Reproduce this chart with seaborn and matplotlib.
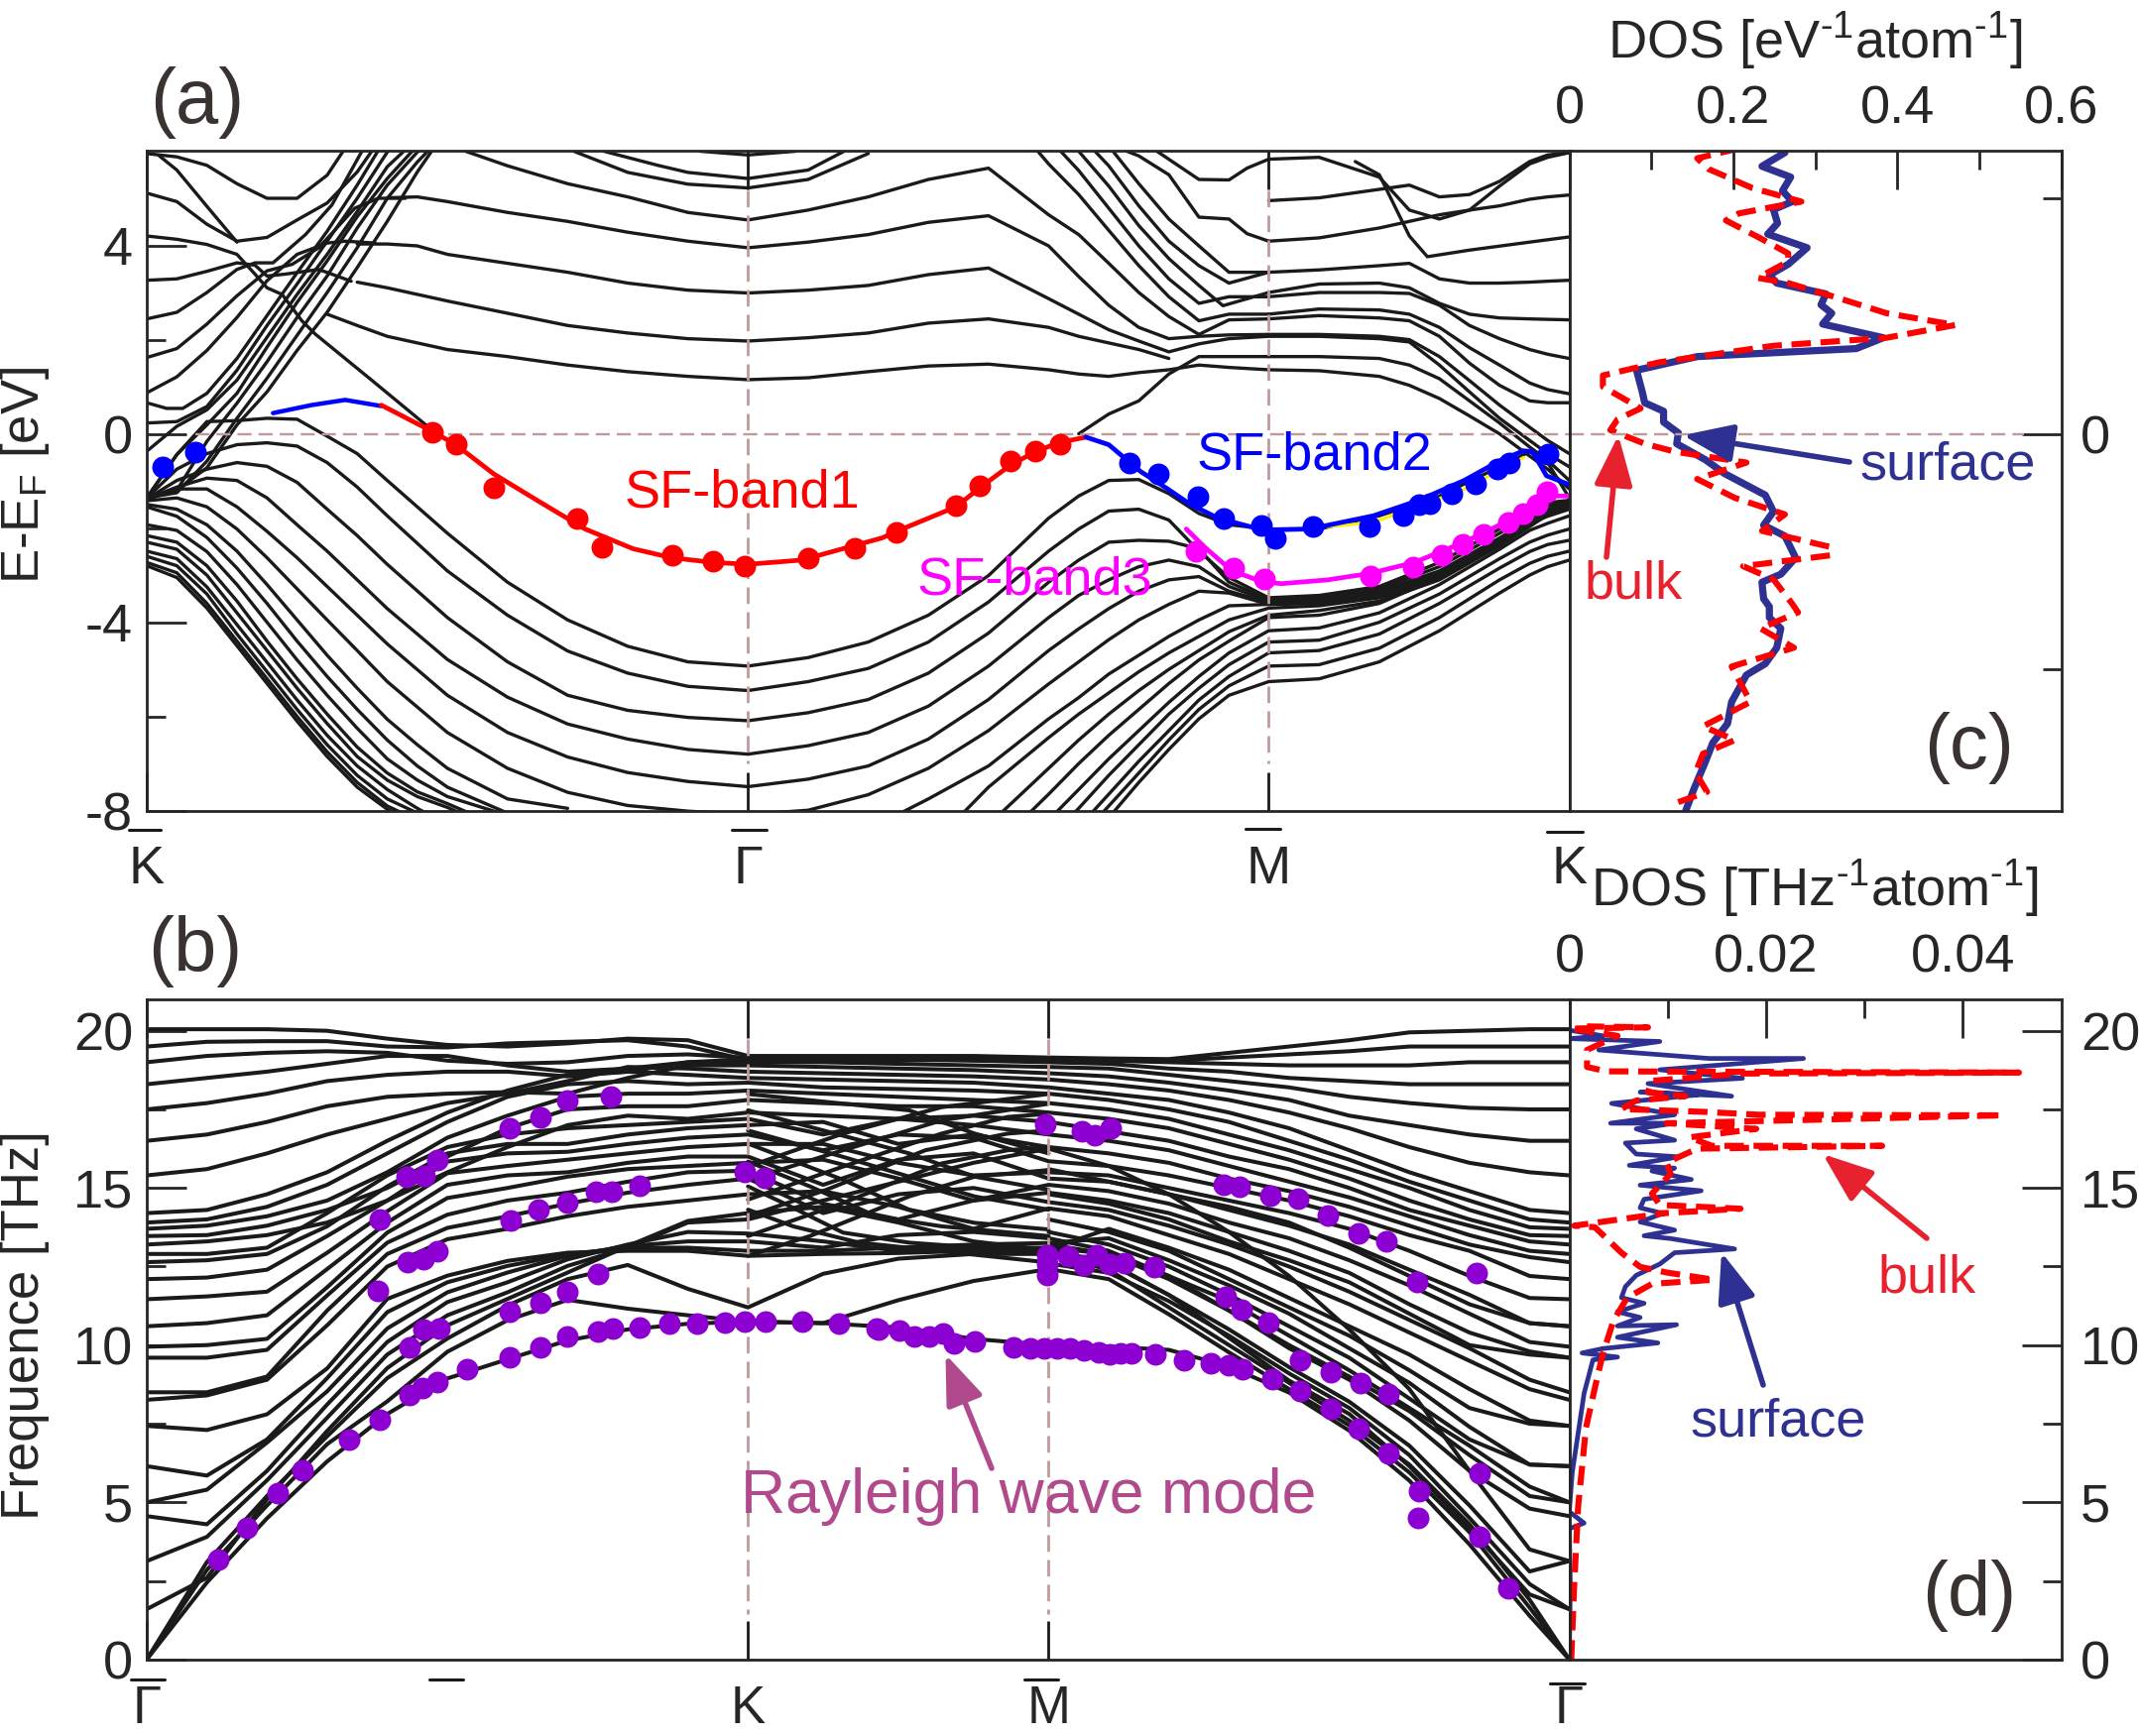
import pandas as pd
import matplotlib
matplotlib.use("Agg")
import matplotlib.pyplot as plt
import seaborn as sns
from matplotlib.lines import Line2D
from matplotlib.patches import FancyArrowPatch

W, H = 2157, 1751

# ---- panel (a): k path K-G-M-K, energies in eV
GRID_A = [0,.05,.1,.15,.2,.25,.3,.35,.4,.5,.6,.7,.8,.9,1,1.1,1.2,1.3,1.4,1.5,1.55,1.6,1.65,1.7,1.75,1.8,1.866,1.95,2.05,2.15,2.25,2.3,2.33,2.366]
V1 = [-1.36,-.44,.26,.28,.33,.31,-.05,-.42,-.99,-2.11,-3.15,-3.95,-4.51,-4.84,-4.93,-4.75,-4.42,-3.85,-3.01,-1.79,-1.32,-.99,-.97,-1.27,-1.69,-1.93,-2.02,-2.02,-1.74,-1.32,-.7,-.38,-.61,-1.36]
V2 = [-1.36,-.75,-.42,-.23,-.19,-.26,-.61,-1.13,-1.74,-2.91,-3.85,-4.61,-5.08,-5.36,-5.45,-5.26,-4.98,-4.42,-3.57,-2.49,-2.02,-1.64,-1.6,-1.83,-2.49,-3.05,-3.48,-3.43,-3.24,-2.73,-2.02,-1.64,-1.46,-1.41]
V3 = [-1.38,-.99,-.75,-.61,-.69,-1.03,-1.6,-2.16,-2.77,-3.9,-4.84,-5.55,-5.87,-6.02,-6.09,-5.92,-5.64,-5.08,-4.23,-3.15,-2.68,-2.3,-2.26,-2.28,-2.44,-3.15,-3.52,-3.48,-3.29,-2.82,-2.11,-1.74,-1.53,-1.44]
V4 = [-1.38,-1.13,-.94,-.99,-1.36,-1.93,-2.49,-3.1,-3.71,-4.79,-5.59,-6.16,-6.48,-6.7,-6.8,-6.62,-6.34,-5.78,-4.93,-3.9,-3.43,-3.1,-2.82,-2.68,-2.82,-3.24,-3.55,-3.52,-3.34,-2.91,-2.21,-1.83,-1.6,-1.46]
V5 = [-1.4,-1.17,-1.17,-1.55,-2.07,-2.63,-3.24,-3.85,-4.46,-5.55,-6.34,-6.86,-7.19,-7.38,-7.49,-7.33,-7.05,-6.48,-5.64,-4.6,-4.14,-3.71,-3.34,-3.1,-3.03,-3.34,-3.58,-3.55,-3.38,-2.95,-2.25,-1.88,-1.63,-1.48]
V6 = [-1.42,-1.36,-1.55,-2.02,-2.63,-3.29,-3.95,-4.6,-5.26,-6.34,-7.1,-7.61,-7.89,-8.01,-8.08,-7.99,-7.66,-7.1,-6.3,-5.31,-4.84,-4.37,-3.95,-3.62,-3.34,-3.38,-3.62,-3.58,-3.42,-3,-2.28,-1.9,-1.65,-1.5]

LOW_LEFT_K = [0,.05,.1,.15,.2,.25,.3,.35,.4,.45,.5,.6,.7]
LL7 = [-1.5,-1.6,-1.93,-2.49,-3.2,-3.95,-4.7,-5.4,-6.06,-6.6,-7.1,-7.75,-7.95]
LL8 = [-1.55,-1.75,-2.2,-2.85,-3.6,-4.4,-5.15,-5.85,-6.5,-7.05,-7.5,-8.05,-8.4]
LL9 = [-1.93,-2.05,-2.5,-3.2,-4,-4.8,-5.55,-6.25,-6.9,-7.35,-7.7,-8.1,-8.8]
LL10 = [-2.16,-2.3,-2.8,-3.55,-4.4,-5.2,-5.95,-6.65,-7.2,-7.6,-7.85,-8.4,-9]
LL11 = [-2.3,-2.45,-3,-3.8,-4.6,-5.4,-6.15,-6.85,-7.35,-7.7,-7.93,-8.5,-9]
LL12 = [-2.49,-2.65,-3.25,-4.05,-4.85,-5.65,-6.4,-7.05,-7.55,-7.95,-8.3,-8.9,-9]
LL13 = [-2.6,-2.8,-3.4,-4.25,-5.05,-5.85,-6.6,-7.25,-7.75,-8.05,-8.4,-9,-9]
LL14 = [-2.73,-2.95,-3.6,-4.4,-5.2,-6,-6.75,-7.4,-7.9,-8.2,-8.5,-9,-9]
LL15 = [-2.8,-3.05,-3.7,-4.5,-5.3,-6.1,-6.85,-7.5,-7.97,-8.3,-8.6,-9,-9]

LOW_RIGHT_K = [1.2,1.3,1.4,1.5,1.55,1.6,1.65,1.7,1.75,1.8,1.866,1.95,2.05,2.15,2.25,2.3,2.33,2.366]
LR7 = [-8.4,-7.75,-7.05,-6.05,-5.6,-5.1,-4.7,-4.3,-3.95,-3.65,-3.62,-3.6,-3.45,-3.05,-2.32,-1.92,-1.68,-1.5]
LR8 = [-9.5,-8.8,-7.5,-6.45,-5.95,-5.5,-5.05,-4.65,-4.3,-3.95,-3.7,-3.65,-3.48,-3.08,-2.35,-1.95,-1.7,-1.52]
LR9 = [-10,-9.5,-8.3,-7.1,-6.5,-5.95,-5.45,-5,-4.6,-4.2,-3.85,-3.75,-3.55,-3.1,-2.38,-1.97,-1.72,-1.55]
LR10 = [-10,-9.7,-8.9,-7.65,-7,-6.4,-5.85,-5.3,-4.8,-4.4,-3.9,-3.85,-3.6,-3.05,-2.3,-1.9,-1.75,-1.6]
LR11 = [-10,-10,-9.7,-8.2,-7.55,-6.9,-6.3,-5.7,-5.15,-4.65,-4.18,-4.12,-3.8,-3.2,-2.45,-2.05,-1.9,-1.74]
LR12 = [-10,-10,-10,-8.6,-7.95,-7.25,-6.6,-5.95,-5.4,-4.9,-4.42,-4.38,-4,-3.4,-2.65,-2.3,-2.15,-2.02]
LR13 = [-10,-10,-10,-9,-8.35,-7.65,-6.95,-6.3,-5.65,-5.15,-4.65,-4.6,-4.25,-3.6,-2.85,-2.5,-2.35,-2.26]
LR14 = [-10,-10,-10,-9.5,-8.6,-7.9,-7.2,-6.5,-5.85,-5.35,-4.93,-4.9,-4.55,-3.9,-3.1,-2.75,-2.6,-2.49]
LR15 = [-10,-10,-10,-9.7,-8.8,-8.15,-7.4,-6.7,-6.05,-5.55,-5.26,-5.2,-4.84,-4.18,-3.38,-3,-2.82,-2.68]

# steep bundle rising out of K towards the top edge
STEEP_K = [0,.05,.1,.15,.2,.25,.3,.35,.4,.45,.49]
S1 = [-1.36,-1.2,-.72,.19,.89,1.77,2.58,3.53,4.51,5.56,6.3]
BB1 = [-1.36,-.44,.19,.86,1.84,2.79,3.67,4.61,5.42,6.12,6.5]
BB2 = [-1.36,-1.2,-.16,.65,1.53,2.47,3.35,4.37,5.28,5.98,6.4]
BB3 = [-1.36,-1.25,-.58,.33,1.18,2.09,3,3.95,5,5.77,6.3]
B1_K = [0,.05,.1,.15,.2,.25,.3,.35]
B1 = [5.95,5.88,5.7,5.31,5,5,5.49,6.45]
B2_K = [0,.05,.1,.15,.2,.25,.3,.35,.4]
B2 = [5.11,4.93,4.45,4.09,4.17,4.54,4.9,5.56,6.47]
U2_K = [.02,.05,.1,.15]
U2 = [5.91,5.6,4.83,4.07]
B3_K = [0,.05,.1,.15,.18,.2,.225,.258,.28,.374,.467]
B3 = [4.2,4.13,4.02,3.81,3.39,3.1,2.96,2.4,2.12,1.14,.16]
B4_K = [0,.05,.1,.15,.18,.2,.23,.286,.34]
B4 = [3.26,3.29,3.45,3.63,3.58,3.35,3.39,3.49,3.24]
B5_K = [0,.05,.1,.15,.18,.21,.264,.308,.357]
B5 = [2.44,2.58,3,3.49,3.63,3.63,4.23,4.86,5.98]
B6_K = [0,.05,.1,.15,.2,.242,.286,.346,.385,.43]
B6 = [1.62,1.81,2.33,2.93,3.46,3.6,3.95,4.79,5,5]
B7_K = [0,.05,.1,.15,.2,.25,.3,.33,.38]
B7 = [.87,1.21,1.77,2.47,3.25,3.81,4.05,4.09,4.05]
B8_K = [0,.033,.06,.1,.15,.2,.25,.3,.35,.4]
B8 = [.66,.54,.54,.86,1.6,2.51,3.42,4.3,5.28,6.33]
B9_K = [0,.05,.1,.15,.2,.25,.3,.35,.4,.42]
B9 = [.23,.26,.58,1.35,2.3,3.18,4.09,5,5.98,6.3]
B10_K = [0,.05,.1,.15,.2,.25,.3,.35,.4,.426]
B10 = [-.37,.16,.51,1.14,2.05,2.96,3.81,4.72,5.67,5.98]

C1_K = [.3,.35,.4,.45,.5,.6,.7,.8,.9,1,1.1,1.2,1.3,1.4,1.5,1.55,1.6,1.65,1.7,1.75,1.8,1.866]
C1 = [2.54,2.3,2.07,1.93,1.79,1.64,1.46,1.32,1.22,1.15,1.19,1.32,1.44,1.48,1.36,1.27,1.22,1.3,1.36,1.46,1.41,1.36]
C2_K = [.35,.4,.45,.5,.6,.7,.8,.9,1,1.1,1.2,1.3,1.4,1.5,1.55,1.6,1.65,1.7]
C2 = [3.22,3.1,2.96,2.82,2.56,2.3,2.14,2.02,1.97,2.04,2.14,2.35,2.44,2.26,2.07,1.93,1.79,1.6]
C3_K = [.35,.4,.45,.5,.6,.7,.8,.9,1,1.1,1.2,1.3,1.4,1.5,1.55,1.6,1.65,1.7,1.75,1.8,1.866]
C3 = [4.03,4.03,3.99,3.81,3.62,3.43,3.2,3.05,2.99,3.05,3.15,3.38,3.52,2.87,2.54,2.21,1.97,1.74,1.91,2.02,2.07]
C4_K = [.4,.45,.5,.6,.7,.8,.9,1,1.1,1.2,1.3,1.4,1.5,1.55,1.6,1.65,1.7,1.75,1.8,1.866]
C4 = [5.01,5.03,4.93,4.7,4.51,4.28,4.09,3.95,4.07,4.23,4.49,4.63,3.99,3.34,2.73,2.26,2.02,2.07,2.1,2.11]
C5_K = [.53,.6,.7,.8,.9,1,1.1,1.2,1.3,1.4,1.5,1.55,1.6,1.65,1.7,1.75,1.8,1.866]
C5 = [6,5.69,5.31,5.03,4.7,4.54,4.75,5.03,5.4,5.64,4.65,4.23,3.62,3,2.49,2.11,2.42,2.44]
C6_K = [.71,.8,.9,1,1.1,1.2]
C6 = [6,5.55,5.3,5.22,5.4,5.95]
C7_K = [.76,.85,.9,1,1.1,1.16]
C7 = [6,5.7,5.55,5.42,5.6,6]
C8_K = [.92,1,1.08]
C8 = [6,5.92,6]
F_K = [1.55,1.6,1.65,1.7,1.75,1.8,1.866]
F = [0,.42,.7,1.27,1.64,1.64,1.64]

T1_K = [1.482,1.5,1.55,1.6,1.65,1.7,1.75,1.8,1.866]
T1 = [6,5.73,5.08,4.32,3.57,2.91,2.4,2.54,2.54]
T2_K = [1.52,1.55,1.6,1.65,1.7,1.75,1.8,1.866]
T2 = [6,5.59,4.79,3.99,3.29,2.77,2.91,2.91]
T3_K = [1.55,1.6,1.65,1.7,1.75,1.79,1.866]
T3 = [6,5.26,4.42,3.72,3.15,2.72,3]
T4_K = [1.577,1.6,1.65,1.7,1.75,1.8,1.866]
T4 = [6,5.69,4.84,4.09,3.57,3.2,3.43]
T5_K = [1.607,1.65,1.7,1.75,1.8,1.866]
T5 = [6,5.31,4.56,3.99,3.43,3.43]
T6_K = [1.63,1.65,1.7,1.75,1.8,1.83,1.866]
T6 = [6,5.9,5.5,4.6,4.56,4.25,4.09]
T7_K = [1.68,1.75,1.8,1.83,1.866]
T7 = [6,5.4,5.39,5.64,5.83]

P_K = [1.866,1.95,2.05,2.1,2.15,2.2,2.25,2.3,2.33,2.366]
P1 = [5.83,5.87,5.45,4.75,4.56,4.75,5.26,5.73,5.87,5.97]
P2 = [4.95,5.01,5.19,5.28,5.03,5.08,5.36,5.78,5.92,5.97]
P3 = [4.09,4.16,4.37,4.51,4.65,4.75,4.84,4.98,5.03,5.07]
P5 = [3.43,3.48,3.57,3.62,3.29,3.2,3.2,3.22,3.24,3.26]
P6 = [3,3.18,3.2,3.1,2.77,2.54,2.46,2.44,2.43,2.42]
P7 = [2.91,3,3,2.98,2.73,2.3,2.02,1.79,1.69,1.6]
P8 = [2.54,2.65,2.63,2.54,2.26,1.83,1.46,1.08,.94,.85]
P9 = [2.44,2.51,2.46,2.4,2.07,1.5,1.03,.7,.66,.66]
P10 = [2.11,2.11,2.07,2,1.64,1.13,.61,.14,-.14,-.42]
P11 = [2.07,2.07,2.02,1.95,1.46,.89,.33,-.14,-.42,-.7]
P12 = [1.64,1.64,1.6,1.46,1.17,.7,.23,-.28,-.56,-.99]
P13 = [1.36,1.34,1.22,1.03,.75,.38,0,-.47,-.75,-1.17]
P4_K = [2.01,2.05,2.1,2.13,2.2,2.3,2.366]
P4 = [5.78,5.5,4.2,3.76,3.9,4.07,4.18]

# surface bands of (a)
SF1_K = [.39,.475,.514,.577,.649,.729,.809,.873,.942,1,1.089,1.223,1.247,1.346,1.387,1.437,1.478,1.516,1.562]
SF1_E = [.61,.05,-.23,-.85,-1.41,-2.02,-2.44,-2.63,-2.73,-2.77,-2.68,-2.21,-2.07,-1.55,-1.13,-.66,-.38,-.19,-.07]
SF1B_K = [.21,.274,.33,.39]
SF1B_E = [.44,.61,.72,.59]
SF2_K = [1.562,1.6,1.653,1.698,1.736,1.782,1.835,1.866,1.934,2.04,2.116,2.191,2.252,2.29,2.305,2.328,2.366]
SF2_E = [-.07,-.23,-.8,-1.17,-1.5,-1.79,-1.97,-2.04,-2.02,-1.74,-1.41,-.99,-.56,-.36,-.38,-.89,-1.08]
YEL_K = [1.964,2.04,2.116,2.191,2.29]
YEL_E = [-1.97,-1.88,-1.53,-1.18,-.5]
SF3_K = [1.729,1.759,1.805,1.858,1.888,1.964,2.036,2.108,2.191,2.267,2.328,2.366]
SF3_E = [-2.02,-2.4,-2.91,-3.15,-3.18,-3.1,-2.96,-2.73,-2.3,-1.83,-1.32,-1.32]

RED_K = [.475,.514,.577,.715,.757,.874,.942,.994,1.1,1.178,1.247,1.346,1.386,1.437,1.478,1.519]
RED_E = [.03,-.21,-1.15,-1.8,-2.4,-2.57,-2.7,-2.8,-2.65,-2.42,-2.09,-1.53,-1.1,-.58,-.36,-.21]
BLUE_K = [.026,.081,1.634,1.683,1.749,1.792,1.854,1.877,1.939,2.034,2.09,2.116,2.135,2.17,2.21,2.247,2.267,2.33]
BLUE_E = [-.7,-.39,-.62,-.85,-1.33,-1.79,-1.95,-2.21,-1.97,-1.97,-1.74,-1.5,-1.48,-1.27,-1.06,-.75,-.61,-.42]
MAG_K = [1.745,1.808,1.858,2.036,2.106,2.154,2.189,2.224,2.265,2.29,2.313,2.329]
MAG_E = [-2.49,-2.84,-3.08,-3.01,-2.82,-2.58,-2.35,-2.14,-1.88,-1.69,-1.5,-1.22]

# ---- panel (c): DOS vs energy
C_SURF_DOS = [.263,.235,.27,.26,.272,.249,.254,.242,.29,.267,.244,.253,.313,.307,.32,.309,.383,.35,.156,.082,.089,.092,.115,.115,.133,.131,.166,.189,.239,.249,.237,.263,.276,.258,.235,.237,.244,.244,.258,.253,.239,.216,.198,.193,.175,.166,.152,.142]
C_SURF_E = [5.97,5.68,5.45,5.16,4.93,4.76,4.47,4.24,3.95,3.6,3.37,3.2,2.97,2.74,2.56,2.33,2.04,1.81,1.64,1.35,.89,.66,.48,.25,.02,-.21,-.55,-.84,-1.3,-1.65,-1.94,-2.17,-2.63,-2.98,-3.15,-3.5,-3.67,-3.9,-4.13,-4.54,-4.88,-5.12,-5.69,-6.15,-6.56,-6.96,-7.54,-8]
C_BULK_DOS = [.207,.156,.17,.223,.283,.207,.191,.23,.267,.267,.23,.267,.323,.387,.471,.387,.249,.11,.041,.041,.087,.059,.05,.092,.129,.216,.156,.202,.263,.235,.318,.318,.212,.249,.272,.279,.233,.274,.198,.221,.163,.202,.163,.154,.168,.131]
C_BULK_E = [6.06,5.85,5.62,5.22,4.93,4.68,4.53,4.18,3.83,3.66,3.31,3.2,2.91,2.56,2.31,2.04,1.87,1.52,1.24,1,.54,.31,.08,-.21,-.38,-.61,-.96,-1.36,-1.71,-2.06,-2.4,-2.58,-2.81,-3.09,-3.61,-3.79,-4.13,-4.54,-4.94,-5.69,-6.21,-6.5,-6.79,-7.19,-7.6,-7.83]

# ---- panel (b): k path G-K-M-G, frequency in THz
GRID_B = [0,.1,.2,.3,.4,.5,.6,.7,.8,.9,1,1.125,1.25,1.375,1.5,1.6,1.7,1.8,1.9,2,2.1,2.2,2.3,2.366]
PH = [
 [0,2.45,4.49,6.3,7.81,8.94,9.55,10.15,10.5,10.68,10.75,10.7,10.56,10.2,10,9.95,9.85,9.32,8.49,7.28,5.69,3.66,1.39,0],
 [0,2.85,4.9,6.85,8.21,9.79,10.79,11.44,11.16,10.95,10.75,10.7,11.43,12.04,12.42,12.1,10.98,9.77,8.6,7.45,5.95,4.05,1.65,0],
 [0,3.1,5.2,7.1,8.95,10.21,11.26,12.1,12.55,11.79,11.2,12.27,12.75,12.9,12.9,12.4,11.2,10,8.8,7.6,6.2,4.3,1.9,0],
 [1.6,2.6,5.1,7.27,9.27,10.63,11.47,12.31,13.15,13.95,14.2,14.4,13.9,13.3,13.02,12.64,11.59,10.23,8.87,7.81,6.15,4.18,2.07,1.6],
 [3.13,3.9,5.7,7.69,9.7,10.95,11.68,12.52,13.1,13.9,14,14.6,15.2,15.8,16.25,15.7,14.8,13.6,12.2,10.5,8.6,6,3.5,3.13],
 [4.56,4.3,6,8.11,10.1,11.37,12,12.73,13.2,13.6,13.55,13.3,13,13.1,13.1,12.9,12.2,11.1,9.9,8.9,7.6,6,4.8,4.56],
 [5,5.4,6.9,8.53,10.53,11.68,12.31,12.84,13.15,13.3,13.3,13.1,13.5,13.6,13.4,13,12.2,11.4,10.3,9.2,8,6.8,5.5,5],
 [6.15,5.85,7,8.95,11.05,12,12.52,12.89,13.1,13.1,13,13,13.1,13.2,13.25,13.4,12.7,11.9,11,9.9,8.8,7.4,6.2,6.15],
 [7.43,7.3,7.8,9.26,11.47,12.21,12.68,12.94,13,13,12.84,12.9,12.93,13,13.05,13.7,13.1,12.4,11.5,10.6,9.7,8.6,7.6,7.43],
 [8.26,8.4,8.9,10.63,12.5,13.37,13.7,14.1,14.4,14.6,14.8,14.9,14.4,13.7,14.35,14.1,13.5,12.9,12.1,11.3,10.4,9.5,8.6,8.26],
 [8.5,8.5,9,11.1,12.9,13.73,14.1,14.5,14.85,15.1,15.3,14.2,14.8,15,14.55,14.3,13.8,13.2,12.5,11.7,10.8,9.9,8.9,8.5],
 [9.6,9.6,9.85,11.58,13.26,14.15,14.6,14.85,15.2,15.5,15.55,14.5,14,14.6,14.85,14.6,14.2,13.6,13,12.3,11.3,10.4,9.8,9.6],
 [9.95,10,10.2,11.84,13.58,14.68,15,15.36,15.6,15.7,15.8,15.9,15.3,14.6,15.1,14.9,14.5,13.9,13.4,12.7,11.9,11,10.1,9.95],
 [10.6,10.7,10.95,12.42,13.9,15.1,15.4,15.5,15.8,16,16,15.1,15.9,16.1,15.3,15.2,14.8,14.3,13.8,13.2,12.4,11.6,10.7,10.6],
 [11.46,11.55,11.7,12.94,14.26,15.47,15.7,15.9,16.1,16.3,16.4,16.4,15.8,15.4,15.5,15.4,15,14.6,14.2,13.7,13,12.2,11.5,11.46],
 [12.1,12.15,12.4,13.47,14.6,15.84,16.1,16.15,16.4,16.6,16.7,16.2,16.7,16.6,15.85,15.7,15.4,15,14.6,14.1,13.5,13,12.2,12.1],
 [12.64,12.7,12.9,13.78,15.05,16.1,16.4,16.4,16.7,16.9,17,17.1,16.4,16.7,16.3,16.1,15.8,15.3,14.9,14.4,13.8,13.2,12.8,12.64],
 [12.9,12.9,13.1,14.2,15.4,16.3,16.7,16.9,17,17.1,17.2,16.7,17.2,17,16.7,16.5,16.2,15.7,15.2,14.7,14.1,13.5,13,12.9],
 [13.2,13.3,13.5,13.9,14.6,15.5,16.3,17,17.3,17.2,17.4,17.3,17.2,17.3,17.1,16.8,16.5,16,15.6,15,14.3,13.8,13.3,13.2],
 [13.47,13.5,13.8,14.3,15,16,16.9,17.5,17.6,17.6,17.8,17.7,17.6,17.6,17.4,17.2,16.9,16.4,15.9,15.3,14.6,14,13.5,13.47],
 [13.7,13.8,14.1,14.6,15.5,16.6,17.3,17.9,18,18,18.1,18,17.9,17.8,17.7,17.5,17.2,16.7,16.2,15.6,15,14.3,13.75,13.7],
 [13.9,14,14.4,15.1,16.1,17.1,17.9,18.3,18.4,18.3,18.35,18.2,18.15,18.1,18,17.8,17.5,17.1,16.5,15.9,15.2,14.6,14,13.9],
 [14.2,14.3,14.8,15.5,16.5,17.4,18.1,18.6,18.7,18.6,18.5,18.45,18.4,18.35,18.2,18,17.8,17.4,16.9,16.2,15.5,14.9,14.3,14.2],
 [15.4,15.6,16.1,16.7,17.2,17.7,18,18.4,18.85,18.8,18.7,18.65,18.6,18.55,18.45,18.3,18.1,17.8,17.4,16.9,16.3,15.8,15.5,15.4],
 [16.5,16.7,17.1,17.6,17.9,18,18.05,18,18.5,18.9,18.9,18.85,18.8,18.75,18.65,18.55,18.35,18.1,17.8,17.3,17,16.7,16.5,16.5],
 [17.5,17.7,18,18.4,18.6,18.7,18.7,18.55,18.7,19,19,19,18.95,18.9,18.85,18.8,18.6,18.4,18.2,17.9,17.7,17.55,17.5,17.5],
 [18.3,18.5,18.7,18.95,19.2,19.2,18.9,18.7,18.8,19,19.1,19.1,19.1,19.05,19,18.95,18.8,18.7,18.5,18.4,18.3,18.3,18.3,18.3],
 [19,19.2,19.3,19.35,19.3,19.05,18.95,19,19.2,19.25,19.14,19.14,19.14,19.1,19.1,19.05,19,18.95,18.9,18.9,18.9,19,19,19],
 [19.5,19.65,19.67,19.67,19.5,19.47,19.6,19.65,19.7,19.5,19.07,19.07,19.07,19.07,19.05,19.05,19.05,19.15,19.25,19.35,19.5,19.5,19.5,19.5],
 [20.05,20.05,20.05,20,19.75,19.55,19.5,19.6,19.75,19.7,19.2,19.2,19.2,19.2,19.15,19.12,19.1,19.3,19.5,19.7,19.95,20,20.05,20.05],
]

# crossing lattice between K and M
X_F1 = ([1,1.158,1.268,1.377,1.5], [16.41,15.26,14.31,13.89,13.68])
X_F2 = ([1,1.103,1.213,1.322,1.5], [15.84,15.05,14.1,13.78,13.47])
X_F3 = ([1,1.059,1.158,1.268,1.5], [15.05,14.52,13.58,13.26,12.94])
X_F4 = ([1,1.075,1.185,1.5], [14.31,13.78,13.26,12.63])
X_F5 = ([1,1.158,1.268,1.377,1.5], [16.83,15.99,15.36,14.73,14.31])
X_F6 = ([1,1.268,1.377,1.5], [17.47,16.1,15.36,14.94])
X_F7 = ([1,1.268,1.377,1.5], [17.99,17.47,16.73,16.1])
X_G1 = ([1,1.103,1.268,1.377,1.5], [12.84,13.47,14.73,15.36,15.57])
X_G2 = ([1,1.158,1.322,1.432,1.5], [13.47,14.52,15.78,16.2,16.31])
X_G3 = ([1,1.13,1.295,1.432,1.5], [14.1,14.94,16.2,16.73,16.83])
X_G4 = ([1,1.158,1.322,1.432,1.5], [14.63,15.68,16.73,17.26,17.36])
X_G5 = ([1,1.158,1.322,1.5], [15.26,16.2,17.15,17.68])
X_G6 = ([1,1.158,1.322,1.5], [15.68,16.73,17.57,17.99])

# extra branches between M and the zone centre
MG_K = [1.5,1.6,1.7,1.8,1.9,2,2.1,2.2,2.3,2.366]
MG1 = [12.9,12.6,11.6,10.5,9.3,8.2,6.8,4.9,2.8,3.13]
MG2 = [12.6,12.3,11.4,10.3,9.1,8,6.5,4.5,2.4,1.6]
MG3 = [13.2,12.9,12.1,11.1,10,9,7.9,6.5,5.2,5]
MG4 = [13.6,13.2,12.5,11.6,10.6,9.6,8.3,7,6.2,6.15]
MG5 = [14,13.6,13,12.1,11.2,10.3,9.2,8,7.5,7.43]
MG6 = [14.8,14.5,14,13.3,12.7,12,11,10,9.7,9.6]
MG7 = [15.6,15.2,14.8,14.4,13.9,13.1,12.2,11.3,10.7,10.6]

PUR_K = [.118,.167,.217,.259,.337,.387,.437,.459,.484,.533,.604,.654,.7,.75,.776,.819,.869,.915,.962,.994,1.03,1.09,1.151,1.214,
         1.217,1.252,1.277,1.302,1.325,1.343,1.377,1.441,1.469,1.492,1.514,1.535,1.558,1.583,1.601,1.62,1.637,1.678,1.725,1.77,1.8,1.822,1.872,1.919,1.969,2.016,2.065,2.116,2.114,2.217,2.265,2.216,
         .46,.486,.437,.604,.654,.7,.75,.385,.434,.46,.484,.606,.651,.699,.747,.774,.82,.388,.432,.462,.483,.604,.654,.7,.772,.995,1.028,
         1.495,1.555,1.577,1.603,1.792,1.818,1.869,1.915,1.965,2.016,2.062,2.113,2.212,1.497,1.497,1.497,1.533,1.558,1.58,1.601,1.626,1.676,1.795,1.821,1.866,1.918,1.969,2.018,2.065]
PUR_F = [3.19,4.18,5.29,6.03,7.01,7.63,8.4,8.63,8.84,9.24,9.62,9.92,10.27,10.44,10.54,10.57,10.69,10.69,10.71,10.74,10.74,10.76,10.68,10.53,
         10.51,10.48,10.27,10.27,10.38,10.05,10.12,9.94,9.89,9.89,9.89,9.89,9.85,9.77,9.7,9.74,9.74,9.7,9.53,9.43,9.37,9.24,8.93,8.53,7.96,7.33,6.56,5.35,4.49,3.91,2.25,5.92,
         10.5,10.53,9.94,11.06,11.36,11.69,12.27,11.74,12.64,12.75,12.98,13.97,14.3,14.53,14.88,14.88,15.06,14,15.36,15.39,15.89,16.9,17.25,17.78,17.9,15.51,15.33,
         17.02,16.8,16.68,16.9,15.09,15.03,14.76,14.67,14.12,13.55,13.29,12.01,12.3,12.87,12.57,12.24,12.84,12.54,12.87,12.57,12.61,12.49,11.54,11.13,10.73,9.53,9.14,8.79,8.44]

# ---- panel (d): DOS vs frequency
D_SURF_DOS = [0,.0001,0,.0015,0,.0003,.0009,.0015,.0024,.0049,.0013,.0034,.009,.0049,.0109,.0049,.0072,.0049,.0076,.0053,.0057,.0068,.0092,.0107,.0168,.0138,.0103,.0076,.0107,.0072,.0095,.0072,.0076,.0134,.0072,.0124,.0084,.0107,.0061,.0111,.0068,.0057,.0107,.0068,.0107,.0042,.0107,.0043,.013,.0072,.0165,.008,.0176,.0092,.0238,.0142,.003,.0092,.0001,.0034,0,0]
D_SURF_F = [0,2.37,4.16,4.34,4.7,5.95,7.2,8.46,9.53,9.62,9.75,9.89,10.07,10.25,10.65,10.61,10.88,11.06,11.33,11.51,11.86,12.22,12.58,12.94,13.06,13.21,13.39,13.48,13.66,13.92,14.19,14.37,14.64,14.91,15.09,15.27,15.54,15.63,15.72,15.99,16.08,16.43,16.52,16.88,17.06,17.06,17.33,17.69,17.96,18.05,17.92,18.32,18.49,18.76,19.12,19.12,19.39,19.66,19.75,19.84,20.02,20.11]
D_BULK_DOS = [.0002,.0005,.0009,.0017,.0026,.0034,.0045,.0059,.0084,.0147,.0099,.0072,.0053,.0026,.0005,.0095,.0092,.0174,.0092,.0084,.0103,.0099,.013,.0318,.0145,.0122,.019,.0099,.044,.0192,.0138,.0053,.0068,.0118,.008,.0084,.0176,.0457,.0038,.0018,.0018,.0049,.0001,.008,.0018]
D_BULK_F = [0,2.37,4.87,7.38,8.64,9.71,10.79,11.51,11.95,12.08,12.31,12.49,12.94,13.75,13.8,14.19,14.19,14.34,14.46,14.82,15.45,15.81,16.25,16.34,16.34,16.61,16.88,17.06,17.31,17.33,17.42,17.51,17.78,17.92,18.05,18.41,18.64,18.67,18.71,18.85,19.39,19.84,20.07,20.11,20.14]

BANDS_A = [(GRID_A, b) for b in (V1, V2, V3, V4, V5, V6)]
BANDS_A += [(LOW_LEFT_K, b) for b in (LL7, LL8, LL9, LL10, LL11, LL12, LL13, LL14, LL15)]
BANDS_A += [(LOW_RIGHT_K, b) for b in (LR7, LR8, LR9, LR10, LR11, LR12, LR13, LR14, LR15)]
BANDS_A += [(STEEP_K, b) for b in (S1, BB1, BB2, BB3)]
BANDS_A += [(B1_K, B1), (B2_K, B2), (U2_K, U2), (B3_K, B3), (B4_K, B4), (B5_K, B5), (B6_K, B6), (B7_K, B7), (B8_K, B8), (B9_K, B9), (B10_K, B10)]
BANDS_A += [(C1_K, C1), (C2_K, C2), (C3_K, C3), (C4_K, C4), (C5_K, C5), (C6_K, C6), (C7_K, C7), (C8_K, C8), (F_K, F)]
BANDS_A += [(T1_K, T1), (T2_K, T2), (T3_K, T3), (T4_K, T4), (T5_K, T5), (T6_K, T6), (T7_K, T7)]
BANDS_A += [(P_K, b) for b in (P1, P2, P3, P5, P6, P7, P8, P9, P10, P11, P12, P13)]
BANDS_A += [(P4_K, P4)]
BANDS_B = [(GRID_B, b) for b in PH]
BANDS_B += [X_F1, X_F2, X_F3, X_F4, X_F5, X_F6, X_F7, X_G1, X_G2, X_G3, X_G4, X_G5, X_G6]
BANDS_B += [(MG_K, b) for b in (MG1, MG2, MG3, MG4, MG5, MG6, MG7)]


def long_table(bands):
    rows = []
    for i, (ks, vals) in enumerate(bands):
        for k, v in zip(ks, vals):
            rows.append((i, k, v))
    return pd.DataFrame(rows, columns=["band", "k", "val"])


def ftext(x, y, s, **kw):
    kw.setdefault("ha", "center")
    kw.setdefault("va", "center")
    fig.text(x / W, 1 - y / H, s, **kw)


def arrow(x0, y0, x1, y1, col):
    fig.add_artist(FancyArrowPatch(
        (x0 / W, 1 - y0 / H), (x1 / W, 1 - y1 / H), transform=fig.transFigure,
        arrowstyle="-|>,head_length=1.1,head_width=0.42", mutation_scale=28,
        color=col, lw=4, shrinkA=0, shrinkB=0, zorder=10))


def bar(x0, x1, y):
    fig.add_artist(Line2D([x0 / W, x1 / W], [1 - y / H, 1 - y / H], transform=fig.transFigure, color="k", lw=2.2))


def line(ax, x, y, col, lw, **kw):
    sns.lineplot(x=x, y=y, sort=False, estimator=None, color=col, lw=lw, ax=ax, legend=False, **kw)


def dots(ax, x, y, col):
    sns.scatterplot(x=x, y=y, color=col, s=250, linewidth=0, ax=ax, legend=False, zorder=6, clip_on=False)


sns.set_theme(style="ticks")
plt.rcParams["font.family"] = ["Liberation Sans", "DejaVu Sans"]
plt.rcParams["mathtext.fontset"] = "custom"
plt.rcParams["mathtext.rm"] = "Liberation Sans"
plt.rcParams["mathtext.default"] = "rm"
plt.rcParams["axes.linewidth"] = 2

fig = plt.figure(figsize=(W / 100, H / 100), dpi=100)
L, M, R = 148, 1582.5, 2078.6
ax_a = fig.add_axes([L / W, 1 - 817.7 / H, (M - L) / W, (817.7 - 152.5) / H])
ax_c = fig.add_axes([M / W, 1 - 817.7 / H, (R - M) / W, (817.7 - 152.5) / H])
ax_b = fig.add_axes([L / W, 1 - 1673.8 / H, (M - L) / W, (1673.8 - 1008) / H])
ax_d = fig.add_axes([M / W, 1 - 1673.8 / H, (R - M) / W, (1673.8 - 1008) / H])

ROSY = "#bf9a9a"
DASH = (0, (6, 3))
NAVY = "#2e3192"
RED = "#ff0000"
TXT_RED = "#e8212e"
PINK = "#b04a8c"

# (a)
sns.lineplot(data=long_table(BANDS_A), x="k", y="val", units="band", estimator=None, sort=False,
             color="k", lw=2.4, ax=ax_a, legend=False)
ax_a.plot([.08, 2.366], [0, 0], color=ROSY, lw=1.7, ls=DASH)
for kv in (1, 1.866):
    ax_a.plot([kv, kv], [5.17, -7], color=ROSY, lw=2, ls=DASH)
line(ax_a, YEL_K, YEL_E, "#ffee00", 2.2)
line(ax_a, SF1B_K, SF1B_E, "#0000ff", 3.2)
line(ax_a, SF1_K, SF1_E, RED, 3.4)
line(ax_a, SF2_K, SF2_E, "#0000ff", 3.4)
line(ax_a, SF3_K, SF3_E, "#ff00ff", 3.4)
dots(ax_a, RED_K, RED_E, RED)
dots(ax_a, BLUE_K, BLUE_E, "#0000ff")
dots(ax_a, MAG_K, MAG_E, "#ff00ff")
ax_a.set(xlim=(0, 2.366), ylim=(-8, 6), xlabel="", ylabel="")
ax_a.set_xticks([0, 1, 1.866, 2.366], ["K", "Γ", "M", "K"])
ax_a.set_yticks([-8, -4, 0, 4], ["-8", "-4", "0", "4"])
ax_a.set_yticks([-6, -2, 2], minor=True)

# (b)
sns.lineplot(data=long_table(BANDS_B), x="k", y="val", units="band", estimator=None, sort=False,
             color="k", lw=2.9, ax=ax_b, legend=False)
for kv in (1, 1.5):
    ax_b.plot([kv, kv], [19.74, 1.46], color=ROSY, lw=2, ls=DASH)
dots(ax_b, PUR_K, PUR_F, "#8c00d2")
ax_b.set(xlim=(0, 2.366), ylim=(0, 21), xlabel="", ylabel="")
ax_b.set_xticks([0, 1, 1.5, 2.366], ["Γ", "K", "M", "Γ"])
ax_b.set_yticks([0, 5, 10, 15, 20], ["0", "5", "10", "15", "20"])
ax_b.set_yticks([2.5, 7.5, 12.5, 17.5], minor=True)

for ax in (ax_a, ax_b):
    ax.tick_params(axis="x", which="major", direction="in", length=28, width=2, top=True, bottom=True, labelsize=39, pad=25, color="k")
    ax.tick_params(axis="y", which="major", direction="in", length=29, width=2, left=True, right=False, labelsize=39, pad=10)
    ax.tick_params(axis="y", which="minor", direction="in", length=14, width=2, left=True, right=False)
# bottom row sits close to the figure edge, keep its labels inside
ax_b.tick_params(axis="x", which="major", pad=18, labelsize=38)

# (c)
line(ax_c, C_SURF_DOS, C_SURF_E, NAVY, 5.2)
line(ax_c, C_BULK_DOS, C_BULK_E, RED, 4.4, linestyle=(0, (3.2, 1.6)))
ax_c.plot([0, .555], [0, 0], color=ROSY, lw=1.7, ls=DASH)
ax_c.set(xlim=(0, .6), ylim=(-8, 6), xlabel="", ylabel="")
ax_c.set_xticks([0, .2, .4, .6], ["0", "0.2", "0.4", "0.6"])
ax_c.set_xticks([.1, .3, .5], minor=True)
ax_c.set_yticks([-5, 0, 5], ["", "0", ""])
ax_c.yaxis.tick_right()
ax_c.tick_params(axis="y", which="major", direction="in", length=14, width=2, labelsize=39, pad=14)
ax_c.yaxis.get_major_ticks()[1].tick2line.set_markersize(29)

# (d)
line(ax_d, D_SURF_DOS, D_SURF_F, NAVY, 3.4)
line(ax_d, D_BULK_DOS, D_BULK_F, RED, 4.4, linestyle=(0, (3.2, 1.6)))
ax_d.set(xlim=(0, .05), ylim=(0, 21), xlabel="", ylabel="")
ax_d.set_xticks([0, .02, .04], ["0", "0.02", "0.04"])
ax_d.set_xticks([.01, .03], minor=True)
ax_d.set_yticks([0, 5, 10, 15, 20], ["0", "5", "10", "15", "20"])
ax_d.set_yticks([2.5, 7.5, 12.5, 17.5], minor=True)
ax_d.yaxis.tick_right()
ax_d.tick_params(axis="y", which="major", direction="in", length=29, width=2, labelsize=39, pad=14)
ax_d.tick_params(axis="y", which="minor", direction="in", length=14, width=2)

for ax in (ax_c, ax_d):
    ax.xaxis.tick_top()
    ax.tick_params(axis="x", which="major", direction="in", length=28, width=2, labelsize=39, pad=12)
    ax.tick_params(axis="x", which="minor", direction="in", length=14, width=2)

for ax in (ax_a, ax_b, ax_c, ax_d):
    for s in ax.spines.values():
        s.set_visible(True)
        s.set_linewidth(2)

# text labels
ftext(25, 479, "E-E$_{F}$ [eV]", rotation=90, fontsize=38)
ftext(25, 1337, "Frequence [THz]", rotation=90, fontsize=38)
ftext(1830, 42, r"DOS [eV$^{\text{-}1}$atom$^{\text{-}1}$]", fontsize=39)
ftext(1830, 897, r"DOS [THz$^{\text{-}1}$atom$^{\text{-}1}$]", fontsize=39)
for s, x, y in (("(a)", 199, 103), ("(b)", 197, 960), ("(c)", 1986, 754), ("(d)", 1986, 1610)):
    ftext(x, y, s, fontsize=56, color="#3a3230")
ftext(748, 497, "SF-band1", fontsize=39, color=RED)
ftext(1325, 459, "SF-band2", fontsize=39, color="#0000ff")
ftext(1043, 586, "SF-band3", fontsize=39, color="#ff00ff")
ftext(1037, 1509, "Rayleigh wave mode", fontsize=45, color=PINK)
ftext(1964, 469, "surface", fontsize=39, color=NAVY)
ftext(1647, 590, "bulk", fontsize=39, color=TXT_RED)
ftext(1793, 1434, "surface", fontsize=39, color=NAVY)
ftext(1943, 1289, "bulk", fontsize=39, color=TXT_RED)

arrow(1000, 1481, 953.5, 1366, PINK)
arrow(1865, 466, 1697, 439, NAVY)
arrow(1620, 562, 1632, 439, TXT_RED)
arrow(1943, 1249, 1838, 1164, TXT_RED)
arrow(1778, 1397, 1736, 1263, NAVY)

for x0, x1, y in ((130, 162, 837), (738, 773, 837), (1256, 1291, 836), (1560, 1596, 839),
                  (132, 166, 1694), (433, 467, 1694), (1033, 1067, 1694), (1563, 1598, 1698)):
    bar(x0, x1, y)

fig.savefig("out.png", dpi=100)
